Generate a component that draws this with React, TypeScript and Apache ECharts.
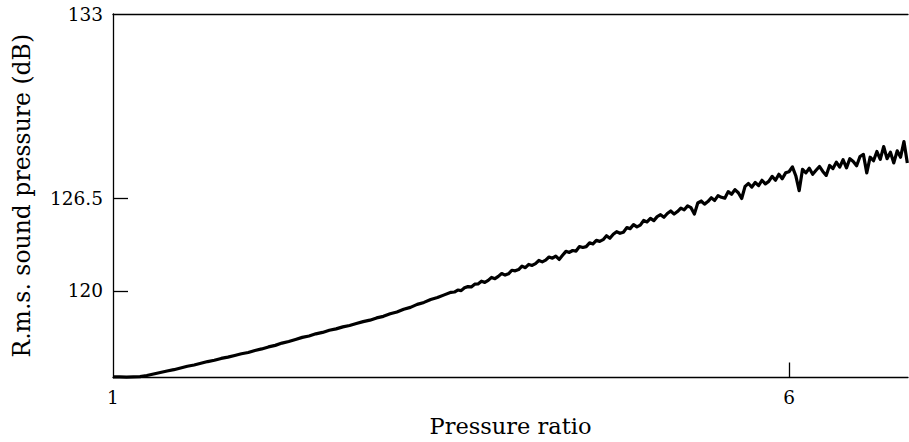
import React, { useEffect, useRef } from "react";
import * as echarts from "echarts";

// Pressure ratio samples (x)
const pressureRatio: number[] = [
  1.0, 1.05, 1.1, 1.15, 1.2, 1.25, 1.3, 1.35, 1.4, 1.45,
  1.5, 1.55, 1.6, 1.65, 1.7, 1.75, 1.8, 1.85, 1.9, 1.95,
  2.0, 2.05, 2.1, 2.15, 2.2, 2.25, 2.3, 2.35, 2.4, 2.45,
  2.5, 2.55, 2.6, 2.65, 2.7, 2.75, 2.8, 2.85, 2.9, 2.95,
  3.0, 3.05, 3.1, 3.15, 3.2, 3.25, 3.3, 3.35, 3.4, 3.45,
  3.5, 3.525, 3.55, 3.575, 3.6, 3.625, 3.65, 3.675, 3.7, 3.725,
  3.75, 3.775, 3.8, 3.825, 3.85, 3.875, 3.9, 3.925, 3.95, 3.975,
  4.0, 4.025, 4.05, 4.075, 4.1, 4.125, 4.15, 4.175, 4.2, 4.225,
  4.25, 4.275, 4.3, 4.325, 4.35, 4.375, 4.4, 4.425, 4.45, 4.475,
  4.5, 4.525, 4.55, 4.575, 4.6, 4.625, 4.65, 4.675, 4.7, 4.725,
  4.75, 4.775, 4.8, 4.825, 4.85, 4.875, 4.9, 4.925, 4.95, 4.975,
  5.0, 5.025, 5.05, 5.075, 5.1, 5.125, 5.15, 5.175, 5.2, 5.225,
  5.25, 5.275, 5.3, 5.325, 5.35, 5.375, 5.4, 5.425, 5.45, 5.475,
  5.5, 5.525, 5.55, 5.575, 5.6, 5.625, 5.65, 5.675, 5.7, 5.725,
  5.75, 5.775, 5.8, 5.825, 5.85, 5.875, 5.9, 5.925, 5.95, 5.975,
  6.0, 6.025, 6.05, 6.075, 6.1, 6.125, 6.15, 6.175, 6.2, 6.225,
  6.25, 6.275, 6.3, 6.325, 6.35, 6.375, 6.4, 6.425, 6.45, 6.475,
  6.5, 6.525, 6.55, 6.575, 6.6, 6.625, 6.65, 6.675, 6.7, 6.725,
  6.75, 6.775, 6.8, 6.825, 6.85, 6.875,
];

// R.m.s. sound pressure (dB)
const soundPressure: number[] = [
  113.95, 113.95, 113.94, 113.95, 113.97, 114.05, 114.16, 114.26, 114.37, 114.46,
  114.58, 114.7, 114.79, 114.91, 115.03, 115.12, 115.25, 115.34, 115.46, 115.58,
  115.67, 115.81, 115.92, 116.06, 116.17, 116.33, 116.44, 116.58, 116.73, 116.83,
  116.98, 117.08, 117.23, 117.33, 117.47, 117.57, 117.71, 117.84, 117.94, 118.1,
  118.21, 118.39, 118.52, 118.71, 118.84, 119.05, 119.19, 119.4, 119.53, 119.72,
  119.9, 119.92, 120.06, 120.02, 120.22, 120.3, 120.28, 120.47, 120.49, 120.68,
  120.6, 120.74, 120.95, 120.86, 121.02, 121.22, 121.11, 121.2, 121.45, 121.41,
  121.5, 121.74, 121.63, 121.86, 121.79, 121.92, 122.14, 122.04, 122.16, 122.38,
  122.3, 122.45, 122.21, 122.5, 122.78, 122.7, 122.84, 122.8, 123.12, 123.05,
  123.11, 123.38, 123.3, 123.55, 123.48, 123.6, 123.88, 123.7, 123.98, 124.16,
  124.05, 124.12, 124.45, 124.38, 124.66, 124.5, 124.62, 124.95, 124.85, 125.1,
  124.94, 125.22, 125.36, 125.18, 125.44, 125.62, 125.4, 125.58, 125.82, 125.7,
  125.98, 125.85, 125.4, 126.18, 126.32, 126.1, 126.28, 126.55, 126.36, 126.7,
  126.58, 126.52, 126.98, 126.8, 127.12, 126.9, 126.5, 127.35, 127.55, 127.3,
  127.62, 127.4, 127.78, 127.52, 127.7, 128.05, 127.78, 128.2, 127.88, 128.3,
  128.38, 128.72, 128.1, 127.05, 128.55, 128.3, 128.62, 128.2, 128.48, 128.75,
  128.4, 128.12, 128.82, 128.6, 129.05, 128.7, 129.22, 128.65, 129.3, 129.1,
  128.8, 129.45, 129.6, 128.3, 129.4, 129.15, 129.8, 129.25, 130.15, 129.3,
  129.75, 129.0, 129.85, 129.4, 130.5, 129.0,
];

const X_MIN = 1;
const X_MAX = 6.88;
const Y_MIN = 113.91;
const Y_MAX = 139.47;
const xTickValues = [6];
const xLabelValues = [1, 6];
const yTickValues = [120, 126.5];
const yLabelValues = [120, 126.5, Y_MAX];
const yTopLabel = "133";

const FONT = "DejaVu Serif";

export default function App() {
  const ref = useRef<HTMLDivElement>(null);

  useEffect(() => {
    if (!ref.current) return;
    const chart = echarts.init(ref.current, null, { renderer: "svg" });
    const data = pressureRatio.map((x, i) => [x, soundPressure[i]]);
    chart.setOption({
      animation: false,
      backgroundColor: "#ffffff",
      grid: { left: 113, right: 1, top: 14, bottom: 60, containLabel: false },
      xAxis: [
        {
          type: "value",
          min: X_MIN,
          max: X_MAX,
          position: "bottom",
          name: "Pressure ratio",
          nameLocation: "middle",
          nameGap: 48,
          nameTextStyle: {
            fontFamily: FONT,
            fontSize: 22.5,
            color: "#000",
            verticalAlign: "middle",
          },
          axisLine: { show: true, onZero: false, lineStyle: { color: "#000", width: 1.3 } },
          axisTick: {
            show: true,
            inside: true,
            length: 15,
            customValues: xTickValues,
            lineStyle: { color: "#000", width: 1.3 },
          },
          axisLabel: {
            show: true,
            customValues: xLabelValues,
            margin: 10,
            fontFamily: FONT,
            fontSize: 18.5,
            color: "#000",
            showMinLabel: true,
            showMaxLabel: true,
          },
          splitLine: { show: false },
        },
        {
          type: "value",
          min: X_MIN,
          max: X_MAX,
          position: "top",
          axisLine: { show: true, onZero: false, lineStyle: { color: "#000", width: 1.3 } },
          axisTick: { show: false },
          axisLabel: { show: false },
          splitLine: { show: false },
        },
      ],
      yAxis: {
        type: "value",
        min: Y_MIN,
        max: Y_MAX,
        name: "R.m.s. sound pressure (dB)",
        nameLocation: "middle",
        nameGap: 91,
        nameRotate: 90,
        nameTextStyle: {
          fontFamily: FONT,
          fontSize: 23.5,
          color: "#000",
          verticalAlign: "middle",
        },
        axisLine: { show: true, onZero: false, lineStyle: { color: "#000", width: 1.3 } },
        axisTick: {
          show: true,
          inside: true,
          length: 15,
          customValues: yTickValues,
          lineStyle: { color: "#000", width: 1.3 },
        },
        axisLabel: {
          show: true,
          customValues: yLabelValues,
          margin: 10,
          fontFamily: FONT,
          fontSize: 18.5,
          color: "#000",
          showMinLabel: true,
          showMaxLabel: true,
          formatter: (v: number) => (Math.abs(v - Y_MAX) < 1e-6 ? yTopLabel : String(v)),
        },
        splitLine: { show: false },
      },
      series: [
        {
          type: "line",
          xAxisIndex: 0,
          data,
          showSymbol: false,
          symbol: "none",
          lineStyle: { color: "#000", width: 3.2, join: "round" },
          clip: true,
        },
      ],
    });
    return () => chart.dispose();
  }, []);

  return (
    <div
      ref={ref}
      style={{ width: 909, height: 442, position: "absolute", left: 0, top: 0 }}
    />
  );
}
